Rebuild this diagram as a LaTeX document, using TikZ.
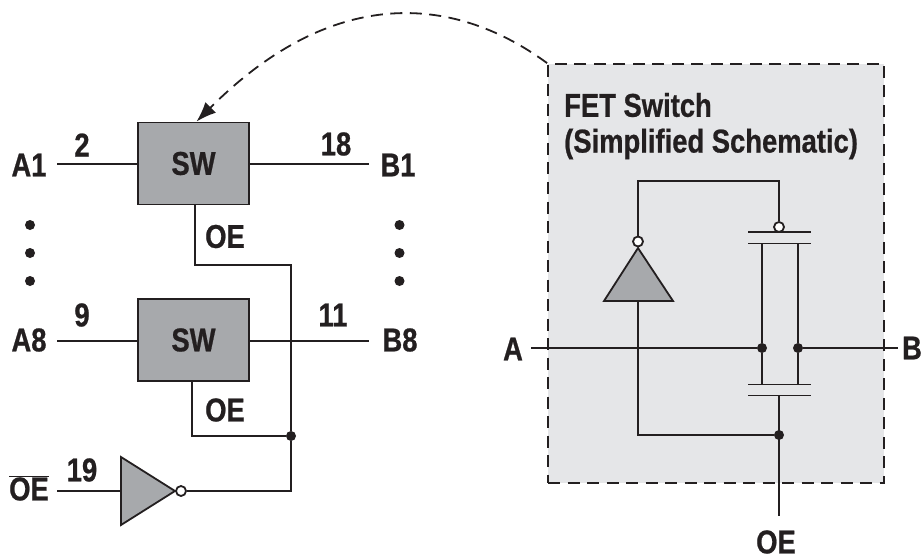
\documentclass[tikz,border=0pt]{standalone}
\usepackage{fontspec}
\usetikzlibrary{arrows.meta}
\setmainfont[FakeStretch=0.83, BoldFeatures={FakeBold=0.7}]{Liberation Sans}
\definecolor{ink}{HTML}{231F20}
\definecolor{shade}{HTML}{A7A9AC}
\definecolor{panelgray}{HTML}{E5E6E8}
\tikzstyle{wire}=[line width=1.8pt, ink]
\tikzstyle{switch}=[draw=ink, line width=1.8pt, fill=shade, minimum width=111pt, minimum height=82pt]
\tikzstyle{label}=[font=\fontsize{33}{37}\selectfont\bfseries, text=ink, inner sep=0pt]
\tikzstyle{junction}=[circle, fill=ink, inner sep=0pt, minimum size=10pt]
\tikzstyle{bubble}=[circle, draw=ink, line width=1.8pt, fill=white, inner sep=0pt, minimum size=10pt]
\tikzstyle{pin}=[circle, fill=ink, inner sep=0pt, minimum size=10pt]

\begin{document}
\begin{tikzpicture}[x=1pt, y=-1pt]
      \useasboundingbox (0, 0) rectangle (923, 556);
      % left side
      \node[switch] (sw1) at (193.5, 163.5) {};
      \node[label] at (sw1) {SW};
      \node[switch] (sw8) at (193.5, 340) {};
      \node[label] at (sw8) {SW};
      \node[label] (a1) at (29, 165) {A1};
      \node[label] (b1) at (398, 165) {B1};
      \node[label] (a8) at (29, 340) {A8};
      \node[label] (b8) at (400, 340) {B8};
      \node[label] (noe) at (29, 488) {$\overline{\mbox{OE}}$};
      \node[label] at (82, 145) {2};
      \node[label] at (336, 144) {18};
      \node[label] at (82, 315) {9};
      \node[label] at (333, 315) {11};
      \node[label] at (82, 470) {19};
      \node[label] at (225, 236.5) {OE};
      \node[label] at (225, 410) {OE};
      \foreach \y in {225, 253, 281} {
        \node[pin] at (30, \y) {};
        \node[pin] at (399.5, \y) {};
      }
      \coordinate (a1in) at (57, 164);
      \coordinate (b1out) at (369, 164);
      \coordinate (a8in) at (57, 341);
      \coordinate (b8out) at (369, 341);
      \coordinate (noein) at (57, 491);
      \draw[wire] (a1in) -- (sw1.west |- a1in);
      \draw[wire] (sw1.east |- b1out) -- (b1out);
      \draw[wire] (a8in) -- (sw8.west |- a8in);
      \draw[wire] (sw8.east |- b8out) -- (b8out);
      \draw[wire, fill=shade] (121, 457) coordinate (invtop) -- (175, 491) coordinate (invtip) -- (121, 525) coordinate (invbot) -- cycle;
      \node[bubble] (invbub) at (181, 491) {};
      \draw[wire] (noein) -- (invtop |- noein);
      \node[junction] (jleft) at (291, 436) {};
      \draw[wire] (invbub) -| (jleft);
      \draw[wire] (jleft) -- (291, 265) coordinate (oetop) -- (195, 265) coordinate (oeleft) -- (oeleft |- sw1.south);
      \draw[wire] (jleft) -- (192, 436) coordinate (oelow) -- (oelow |- sw8.south);
      % right side
      \node[draw=ink, line width=1.8pt, dash pattern=on 12pt off 7.5pt, fill=panelgray, minimum width=336pt, minimum height=419pt] (panel) at (716, 273.5) {};
      \node[label, anchor=west] at (564, 105) {FET Switch};
      \node[label, anchor=west] at (564, 144) {(Simplified Schematic)};
      \draw[wire, fill=shade] (638, 248) coordinate (apex) -- (673, 301) coordinate (baser) -- (604, 301) coordinate (basel) -- cycle;
      \node[bubble] (topbub) at (638, 241.5) {};
      \node[bubble] (gatebub) at (779, 227) {};
      \draw[wire] (topbub) -- (638, 181) -- (779, 181) -- (gatebub);
      \foreach \y in {232, 243.5, 384.5, 395.5} {
        \draw[wire] (748, \y) -- (811, \y);
      }
      \node[pin] (dl) at (762, 348) {};
      \node[pin] (dr) at (798, 348) {};
      \draw[wire] (762, 243.5) -- (dl) -- (762, 384.5);
      \draw[wire] (798, 243.5) -- (dr) -- (798, 384.5);
      \node[label] (a) at (513, 349) {A};
      \node[label] (b) at (912, 348) {B};
      \node[label] (oe) at (776, 542) {OE};
      \coordinate (ain) at (531, 348);
      \coordinate (bout) at (898, 348);
      \coordinate (oein) at (779, 516);
      \draw[wire] (ain) -- (dl);
      \draw[wire] (dr) -- (bout);
      \node[junction] (jright) at (779, 435) {};
      \draw[wire] (638, 301) -- (638, 435) -- (jright);
      \draw[wire] (779, 395.5) -- (oein);
      % dashed link
      \draw[wire, dash pattern=on 12pt off 7.5pt, -{Latex[length=20pt, width=15pt]}] (panel.north west) .. controls (450, -8) and (330, -12) .. ([xshift=3pt]sw1.north);
    \end{tikzpicture}
\end{document}
